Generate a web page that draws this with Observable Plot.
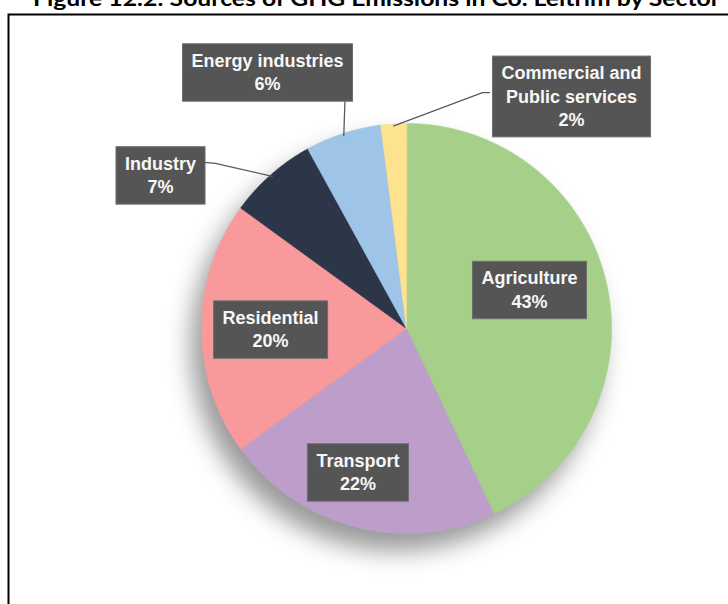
<!DOCTYPE html>
<html><head><meta charset="utf-8">
<script src="https://cdn.jsdelivr.net/npm/d3@7"></script>
<script src="https://cdn.jsdelivr.net/npm/@observablehq/plot@0.6"></script>
<style>body{margin:0;background:#fff}</style>
</head><body><div id="chart"></div>
<script>
// ---- data ----
const title = "Figure 12.2: Sources of GHG Emissions in Co. Leitrim by Sector";
const sectors = ["Agriculture", "Transport", "Residential", "Industry", "Energy industries", "Commercial and Public services"];
const shares = [43, 22, 20, 7, 6, 2];
const labelNames = ["Agriculture", "Transport", "Residential", "Industry", "Energy industries", "Commercial and\nPublic services"];
const colors = ["#a6cf8a", "#bd9ecb", "#f8999b", "#2c3648", "#9ec4e7", "#fde290"];

// ---- layout (unit-circle coordinates) ----
const labelPos = [[0.600, 0.195], [-0.237, -0.695], [-0.663, 0.002], [-1.200, 0.754], [-0.678, 1.256], [0.805, 1.139]];
const leaderPath = [null, null, null, [[-0.985, 0.810], [-0.932, 0.805]], [[-0.300, 1.117]], [[0.405, 1.151], [0.371, 1.151]]];

const arcs = d3.pie().sort(null).value(d => d)(shares);
const slicePts = [];
arcs.forEach((a, i) => {
  slicePts.push({sector: sectors[i], x: 0, y: 0});
  const n = Math.max(2, Math.ceil((a.endAngle - a.startAngle) / (Math.PI / 360)));
  for (let k = 0; k <= n; k++) {
    const t = a.startAngle + (a.endAngle - a.startAngle) * k / n;
    slicePts.push({sector: sectors[i], x: Math.sin(t), y: Math.cos(t)});
  }
});

const leaderPts = [];
arcs.forEach((a, i) => {
  if (!leaderPath[i]) return;
  leaderPath[i].forEach(p => leaderPts.push({sector: sectors[i], x: p[0], y: p[1]}));
  const mid = (a.startAngle + a.endAngle) / 2;
  leaderPts.push({sector: sectors[i], x: Math.sin(mid) * 0.99, y: Math.cos(mid) * 0.99});
});

const labels = sectors.map((s, i) => ({sector: s, x: labelPos[i][0], y: labelPos[i][1], text: labelNames[i] + "\n" + shares[i] + "%"}));

const chart = Plot.plot({
  width: 728, height: 604, margin: 0,
  x: {domain: [-1, 1], range: [201, 611], axis: null},
  y: {domain: [-1, 1], range: [533, 123], axis: null},
  color: {domain: sectors, range: colors},
  style: {background: "white", overflow: "hidden"},
  marks: [
    Plot.frame({stroke: "#000", strokeWidth: 2, insetLeft: 8, insetTop: 14, insetRight: -10, insetBottom: -10}),
    Plot.text([title], {text: d => d, frameAnchor: "top", dx: 12, dy: -1, lineAnchor: "middle", fontSize: 21, fontWeight: "bold", fontFamily: "Lato, 'Open Sans', sans-serif", fill: "#000"}),
    Plot.line(slicePts, {x: "x", y: "y", z: "sector", fill: "sector", stroke: "sector", strokeWidth: 0.6, curve: "linear-closed"}),
    Plot.line(leaderPts, {x: "x", y: "y", z: "sector", stroke: "#5a5a5a", strokeWidth: 1.3}),
    Plot.text(labels, {x: "x", y: "y", text: "text", fill: "#f7f7f7", fontSize: 18, fontWeight: "bold", fontFamily: "'Liberation Sans', Arial, sans-serif", lineHeight: 1.3})
  ]
});
document.getElementById("chart").append(chart);

// soft drop shadow for the pie
const lineGroups = chart.querySelectorAll('g[aria-label="line"]');
lineGroups[0].style.filter = "drop-shadow(-10px 17px 12px rgba(0,0,0,0.4))";

// title width
const textGroups = chart.querySelectorAll('g[aria-label="text"]');
const tEl = textGroups[0].querySelector("text");
tEl.setAttribute("textLength", 687);
tEl.setAttribute("lengthAdjust", "spacingAndGlyphs");

// label boxes behind label text
const NS = "http://www.w3.org/2000/svg";
textGroups[textGroups.length - 1].querySelectorAll("text").forEach(t => {
  const b = t.getBBox();
  const r = document.createElementNS(NS, "rect");
  r.setAttribute("x", b.x - 9);
  r.setAttribute("y", b.y - 7);
  r.setAttribute("width", b.width + 18);
  r.setAttribute("height", b.height + 14);
  r.setAttribute("fill", "#555555");
  r.setAttribute("stroke", "#6e6e6e");
  r.setAttribute("stroke-width", 1);
  const tr = t.getAttribute("transform");
  if (tr) r.setAttribute("transform", tr);
  t.parentNode.insertBefore(r, t);
});
</script>
</body></html>
